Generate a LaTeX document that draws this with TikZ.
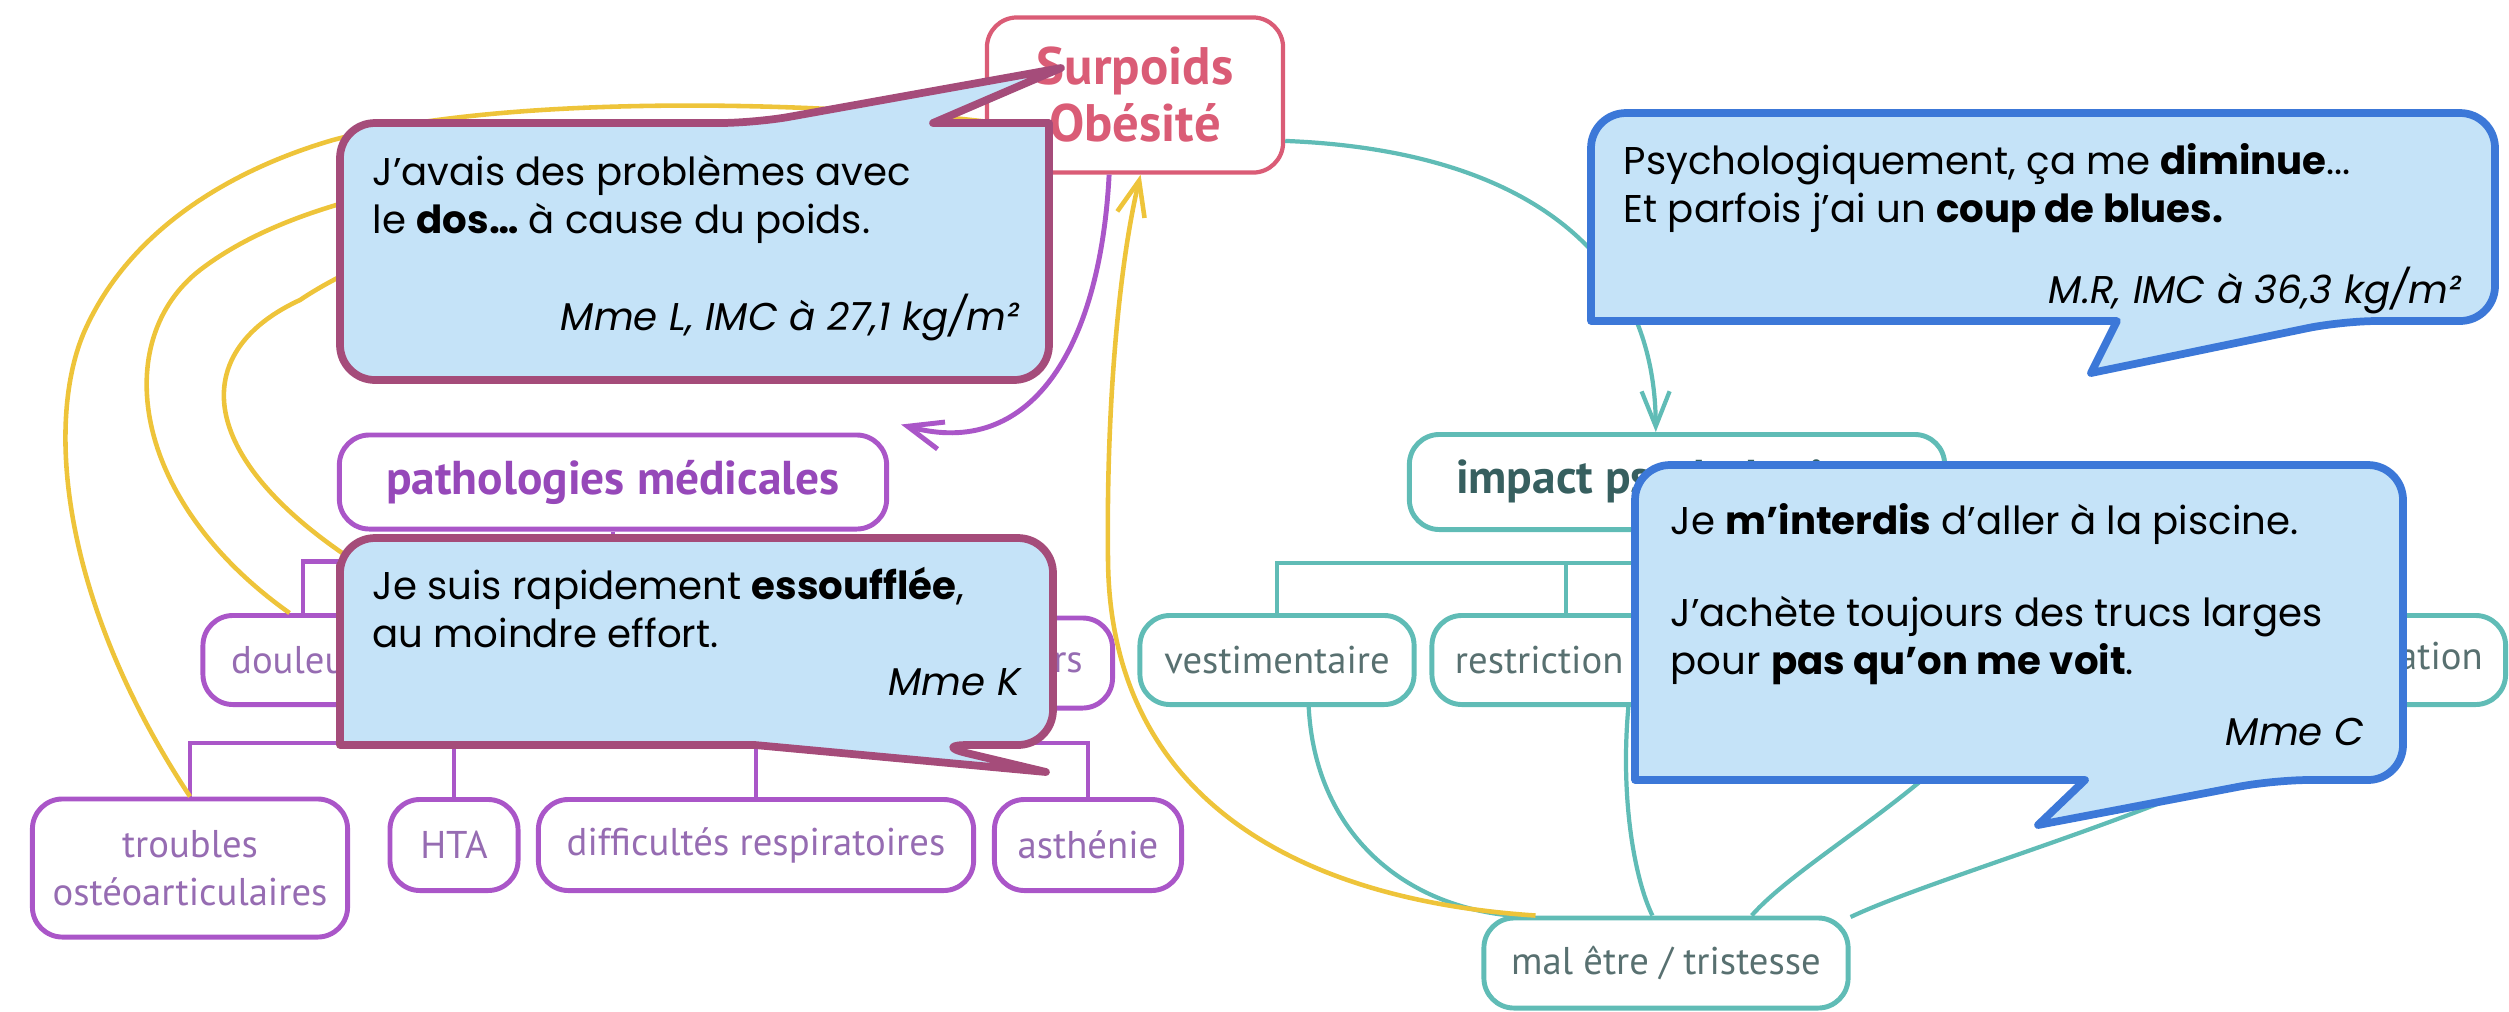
\documentclass[tikz,border=0pt]{standalone}
\usepackage{fontspec}
\setmainfont{Poppins}
\newfontfamily\mapfont{PT Sans}
\usetikzlibrary{arrows.meta}

\definecolor{obeRed}{RGB}{218,92,118}
\definecolor{pathoViolet}{RGB}{170,86,200}
\definecolor{pathoText}{RGB}{150,72,185}
\definecolor{pathoGrey}{RGB}{150,108,178}
\definecolor{psyTeal}{RGB}{96,188,182}
\definecolor{psyText}{RGB}{55,95,95}
\definecolor{psyGrey}{RGB}{88,112,112}
\definecolor{linkYellow}{RGB}{238,196,58}
\definecolor{quoteFill}{RGB}{197,227,248}
\definecolor{quoteMauve}{RGB}{165,76,122}
\definecolor{quoteBlue}{RGB}{60,120,216}

\begin{document}
\begin{tikzpicture}[x=0.01cm,y=-0.01cm,
  mapbox/.style={draw,rounded corners=0.3cm,line width=1.4pt,inner sep=0pt,align=center},
  root/.style={mapbox,draw=obeRed,text=obeRed,line width=1.2pt,font=\mapfont\bfseries\fontsize{15}{16.2}\selectfont},
  patho/.style={mapbox,draw=pathoViolet,text=pathoText,font=\mapfont\bfseries\fontsize{13.5}{15}\selectfont},
  pathochild/.style={mapbox,draw=pathoViolet,text=pathoGrey,font=\mapfont\fontsize{11}{13.7}\selectfont},
  psy/.style={mapbox,draw=psyTeal,text=psyText,font=\mapfont\bfseries\fontsize{13.5}{15}\selectfont},
  psychild/.style={mapbox,draw=psyTeal,text=psyGrey,font=\mapfont\fontsize{11}{13.7}\selectfont},
  violetlink/.style={pathoViolet,line width=1.4pt},
  teallink/.style={psyTeal,line width=1.2pt},
  yellowlink/.style={linkYellow,line width=1.3pt},
  barbhead/.style={-{Straight Barb[length=0.35cm,width=0.28cm]}},
  mauvebubble/.style={draw=quoteMauve,fill=quoteFill,line width=2.2pt,line join=round},
  bluebubble/.style={draw=quoteBlue,fill=quoteFill,line width=2.2pt,line join=round},
  quote/.style={font=\fontsize{11}{13.4}\selectfont,align=left,inner sep=0pt,anchor=base west},
  who/.style={font=\itshape\fontsize{11}{13.4}\selectfont,inner sep=0pt,anchor=base east}]
  \useasboundingbox (0,0) rectangle (2509,1011);

  % root of the map
  \node[root,minimum width=2.96cm,minimum height=1.55cm] (obes) at (1135,95) {Surpoids\\Obésité};

  % Left-hand side: medical branch
  \node[patho,minimum width=5.47cm,minimum height=0.94cm] (patho) at (613,482) {pathologies médicales};
  \node[pathochild,minimum width=2cm,minimum height=0.89cm]    (pain)  at (303,660)  {douleurs};
  \node[pathochild,minimum width=1.83cm,minimum height=0.9cm]  (canc)  at (1021,663) {cancers};
  \node[pathochild,minimum width=3.15cm,minimum height=1.38cm] (bones) at (190,868)  {troubles\\ostéoarticulaires};
  \node[pathochild,minimum width=1.28cm,minimum height=0.91cm] (hta)   at (454,845)  {HTA};
  \node[pathochild,minimum width=4.35cm,minimum height=0.91cm] (resp)  at (756,845)  {difficultés respiratoires};
  \node[pathochild,minimum width=1.87cm,minimum height=0.91cm] (asth)  at (1088,845) {asthénie};
  \coordinate (pathohid) at (440,610); % hidden under the quote
  \coordinate (fork2) at (613,743);

  \draw[violetlink] (patho.south) -- ++(0,30) coordinate (fork1);
  \draw[violetlink] (fork1) -| (pain.north);
  \draw[violetlink] (fork1) -| (canc.north);
  \draw[violetlink] (fork1) -- (fork2);
  \draw[violetlink] (fork2) -| (bones.north);
  \draw[violetlink] (fork2) -| (hta.north);
  \draw[violetlink] (fork2) -| (resp.north);
  \draw[violetlink] (fork2) -| (asth.north);

  % Right-hand side: psychological branch
  \node[psy,minimum width=5.35cm,minimum height=0.95cm] (impact) at (1677,482) {impact psychologique};
  \node[psychild,minimum width=2.74cm,minimum height=0.89cm] (vest)  at (1277,660) {vestimentaire};
  \node[psychild,minimum width=2.68cm,minimum height=0.89cm,text width=2.22cm,align=left] (restr) at (1566,660) {restriction};
  \node[psychild,minimum width=2.81cm,minimum height=0.89cm] (stig)  at (2365,660) {stigmatisation};
  \node[psychild,minimum width=3.64cm,minimum height=0.9cm]  (mal)   at (1666,963) {mal être / tristesse};
  \coordinate (psyhid) at (1990,705); % hidden under the quote

  \draw[teallink] (impact.south) -- ++(0,31) coordinate (fork3);
  \draw[teallink] (fork3) -| (vest.north);
  \draw[teallink] (fork3) -| (restr.north);
  \draw[teallink] (fork3) -| (stig.north);
  \draw[teallink] (vest.-56) .. controls (1315,830) and (1400,905) .. (mal.163);
  \draw[teallink] (restr.-37) .. controls (1620,800) and (1635,880) .. (mal.106);
  \draw[teallink] (psyhid) .. controls (1950,780) and (1800,860) .. (mal.29);
  \draw[teallink] (stig.250) .. controls (2250,790) and (1950,870) .. (mal.14);

  % links between the branches
  \draw[teallink,barbhead] (obes.343) .. controls (1520,150) and (1655,250) .. (impact.113);
  \draw[violetlink,barbhead] (obes.252) .. controls (1100,350) and (1030,460) .. ([shift={(12,-8)}]patho.north east);
  \draw[yellowlink,barbhead] (mal.160) .. controls (1300,900) and (1110,800) .. (1108,560)
    .. controls (1106,400) and (1120,260) .. (obes.274);
  \draw[yellowlink] (obes.190) .. controls (800,100) and (500,95) .. (333,140)
    .. controls (230,170) and (130,230) .. (85,330)
    .. controls (45,420) and (60,600) .. (bones.north);
  \draw[yellowlink] (obes.199) .. controls (600,150) and (330,170) .. (200,270)
    .. controls (110,340) and (130,500) .. (pain.106);
  \draw[yellowlink] (obes.204) .. controls (600,200) and (420,220) .. (300,300)
    .. controls (170,360) and (200,490) .. (pathohid);

  % quotes
  \draw[mauvebubble] (1049,250) [rounded corners=0.35cm] -- (1049,380) -- (340,380) -- (340,123) -- (755,123)
    [sharp corners] -- (1061,68) -- (933,123) -- (1049,123) [rounded corners=0.35cm] -- cycle;
  \node[quote] (q1) at (372,233) {J’avais des problèmes avec\\le \textbf{dos…} à cause du poids.};
  \node[who] (q1who) at (1020,330) {Mme L, IMC à 27,1 kg/m²};

  \draw[mauvebubble] (340,600) [rounded corners=0.35cm] -- (340,538) -- (1053,538) -- (1053,745) -- (933,745)
    [sharp corners] -- (1046,772) -- (755,745) -- (340,745) [rounded corners=0.35cm] -- cycle;
  \node[quote] (q2) at (372,647) {Je suis rapidement \textbf{essoufflée},\\au moindre effort.};
  \node[who] (q2who) at (1021,695) {Mme K};

  \draw[bluebubble] (1591,200) [rounded corners=0.35cm] -- (1591,113) -- (2495,113) -- (2495,321) -- (2342,321)
    [sharp corners] -- (2091,373) -- (2117,321) -- (1591,321) [rounded corners=0.35cm] -- cycle;
  \node[quote] (q3) at (1623,222) {Psychologiquement, ça me \textbf{diminue}...\\Et parfois j’ai un \textbf{coup de blues.}};
  \node[who] (q3who) at (2462,303) {M.R, IMC à 36,3 kg/m²};

  \draw[bluebubble] (1635,600) [rounded corners=0.35cm] -- (1635,465) -- (2403,465) -- (2403,780) -- (2274,780)
    [sharp corners] -- (2038,825) -- (2085,780) -- (1635,780) [rounded corners=0.35cm] -- cycle;
  \node[quote] (q4) at (1670,674) {Je \textbf{m’interdis} d’aller à la piscine.\\[13pt]J’achète toujours des trucs larges\\pour \textbf{pas qu’on me voit}.};
  \node[who] (q4who) at (2365,745) {Mme C};
\end{tikzpicture}
\end{document}
